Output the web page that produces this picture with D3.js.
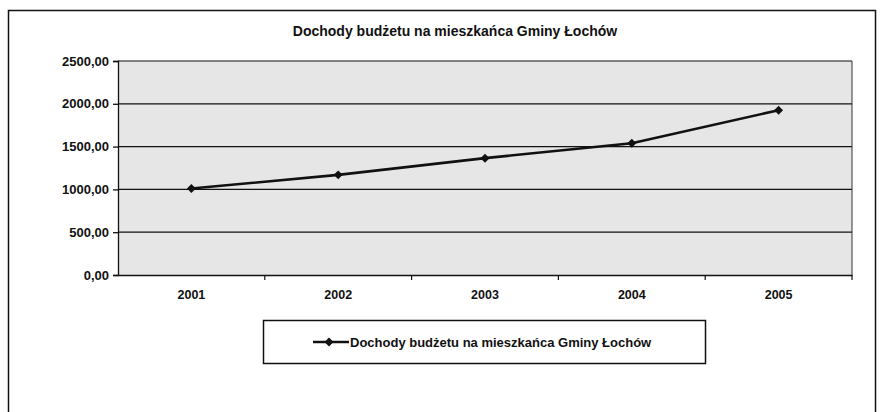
<!DOCTYPE html>
<html>
<head>
<meta charset="utf-8">
<script src="https://cdn.jsdelivr.net/npm/d3@7"></script>
<style>
  body { margin: 0; background: #fff; }
  text { font-family: "Liberation Sans", Arial, sans-serif; }
</style>
</head>
<body>
<script>
// data
var years = ["2001", "2002", "2003", "2004", "2005"];
var values = [1010, 1170, 1365, 1540, 1925];
var yTicks = [0, 500, 1000, 1500, 2000, 2500];
var title = "Dochody budżetu na mieszkańca Gminy Łochów";
var seriesName = "Dochody budżetu na mieszkańca Gminy Łochów";

var width = 882, height = 412;
var svg = d3.select("body").append("svg")
    .attr("width", width)
    .attr("height", height);

// outer frame
svg.append("rect")
    .attr("x", 8.5).attr("y", 10.5)
    .attr("width", 867).attr("height", 420)
    .attr("fill", "none").attr("stroke", "#111").attr("stroke-width", 1.5);

var plotLeft = 118, plotRight = 852, plotTop = 61, plotBottom = 275;

var x = d3.scaleBand().domain(years).range([plotLeft, plotRight]);
var y = d3.scaleLinear().domain([0, 2500]).range([plotBottom, plotTop]);

// plot background
svg.append("rect")
    .attr("x", plotLeft).attr("y", plotTop)
    .attr("width", plotRight - plotLeft).attr("height", plotBottom - plotTop)
    .attr("fill", "#e6e6e6");

// gridlines
svg.append("g").selectAll("line")
    .data(yTicks.filter(function(d){ return d > 0; }))
    .enter().append("line")
    .attr("x1", plotLeft).attr("x2", plotRight)
    .attr("y1", function(d){ return y(d); })
    .attr("y2", function(d){ return y(d); })
    .attr("stroke", "#111").attr("stroke-width", 1.2);

// right edge of plot
svg.append("line")
    .attr("x1", plotRight).attr("x2", plotRight)
    .attr("y1", plotTop).attr("y2", plotBottom)
    .attr("stroke", "#333").attr("stroke-width", 1);

// y axis
var yAxis = svg.append("g")
    .attr("transform", "translate(" + plotLeft + ",0)")
    .call(d3.axisLeft(y).tickValues(yTicks).tickSize(5)
        .tickFormat(function(d){ return d3.format(".2f")(d).replace(".", ","); }));
yAxis.selectAll("text")
    .attr("font-size", 13).attr("font-weight", "bold").attr("fill", "#111")
    .attr("x", -9);
yAxis.selectAll("line, path").attr("stroke", "#111").attr("stroke-width", 1.3);

// x axis, ticks at category boundaries
var xAxis = svg.append("g")
    .attr("transform", "translate(0," + plotBottom + ")")
    .call(d3.axisBottom(x).tickSize(0).tickPadding(15));
xAxis.selectAll("text")
    .attr("font-size", 12.5).attr("font-weight", "bold").attr("fill", "#111");
xAxis.selectAll("path").attr("stroke", "#111").attr("stroke-width", 1.3);
xAxis.selectAll(".bound")
    .data(years)
    .enter().append("line")
    .attr("class", "bound")
    .attr("x1", function(d){ return x(d) + x.bandwidth(); })
    .attr("x2", function(d){ return x(d) + x.bandwidth(); })
    .attr("y1", 0).attr("y2", 5)
    .attr("stroke", "#111").attr("stroke-width", 1.2);

// series line
var line = d3.line()
    .x(function(d, i){ return x(years[i]) + x.bandwidth() / 2; })
    .y(function(d){ return y(d); });

svg.append("path")
    .datum(values)
    .attr("d", line)
    .attr("fill", "none")
    .attr("stroke", "#111")
    .attr("stroke-width", 2.6);

// markers: small squares turned 45 degrees
var marker = d3.symbol().type(d3.symbolSquare).size(40);
svg.selectAll(".pt")
    .data(values)
    .enter().append("path")
    .attr("class", "pt")
    .attr("d", marker)
    .attr("transform", function(d, i){
        return "translate(" + (x(years[i]) + x.bandwidth() / 2) + "," + y(d) + ") rotate(45)";
    })
    .attr("fill", "#111");

// title
svg.append("text")
    .attr("x", 455).attr("y", 36)
    .attr("text-anchor", "middle")
    .attr("font-size", 14).attr("font-weight", "bold").attr("fill", "#111")
    .text(title);

// legend
var legend = svg.append("g").attr("transform", "translate(263,320)");
legend.append("rect")
    .attr("x", 0.5).attr("y", 0.5)
    .attr("width", 442).attr("height", 43)
    .attr("fill", "#fff").attr("stroke", "#111").attr("stroke-width", 1.5);
legend.append("line")
    .attr("x1", 50).attr("x2", 86).attr("y1", 22).attr("y2", 22)
    .attr("stroke", "#111").attr("stroke-width", 2.6);
legend.append("path")
    .attr("d", marker)
    .attr("transform", "translate(66,22) rotate(45)")
    .attr("fill", "#111");
legend.append("text")
    .attr("x", 87).attr("y", 26.5)
    .attr("font-size", 13).attr("font-weight", "bold").attr("fill", "#111")
    .text(seriesName);
</script>
</body>
</html>
